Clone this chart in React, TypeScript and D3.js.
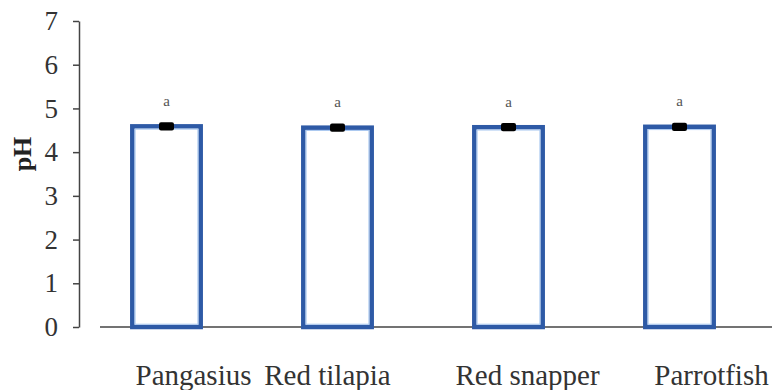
import React, { useEffect, useRef } from "react";
import * as d3 from "d3";

// data
const species = ["Pangasius", "Red tilapia", "Red snapper", "Parrotfish"];
const phValues = [4.59, 4.56, 4.57, 4.58];
const phErrors = [0.06, 0.06, 0.06, 0.06];
const letters = ["a", "a", "a", "a"];
const yTicks = [0, 1, 2, 3, 4, 5, 6, 7];

// labels in the original are not centred under their bars
const labelShift = [27, -10, 19, 32];

const width = 776;
const height = 390;

export default function App() {
  const ref = useRef<SVGSVGElement>(null);

  useEffect(() => {
    const svg = d3.select(ref.current);
    svg.selectAll("*").remove();

    const x = d3.scaleBand<string>()
      .domain(species)
      .range([81, 765])
      .paddingInner(0.6)
      .paddingOuter(0.3);

    const y = d3.scaleLinear()
      .domain([0, 7])
      .range([327, 21]);

    const serif = "'Liberation Serif', 'Times New Roman', serif";

    // y axis
    const yAxis = svg.append("g")
      .attr("transform", "translate(79,0)")
      .call(d3.axisLeft(y).tickValues(yTicks).tickSize(6).tickPadding(15).tickSizeOuter(0).tickFormat(d3.format("d")));
    yAxis.select(".domain").attr("stroke", "#444").attr("stroke-width", 1.5);
    yAxis.selectAll(".tick line").attr("stroke", "#444").attr("stroke-width", 1.5);
    yAxis.selectAll(".tick text")
      .attr("fill", "#333")
      .style("font-family", serif)
      .style("font-size", "27px");

    // x axis line (does not touch the y axis)
    svg.append("line")
      .attr("x1", 100)
      .attr("x2", 772)
      .attr("y1", y(0))
      .attr("y2", y(0))
      .attr("stroke", "#444")
      .attr("stroke-width", 1.5);

    // bars
    const bars = svg.append("g");
    bars.selectAll("rect.bar")
      .data(species)
      .join("rect")
      .attr("class", "bar")
      .attr("x", d => x(d)!)
      .attr("y", (d, i) => y(phValues[i]))
      .attr("width", x.bandwidth())
      .attr("height", (d, i) => y(0) - y(phValues[i]))
      .attr("fill", "#fff")
      .attr("stroke", "#2e5aa6")
      .attr("stroke-width", 4.5);

    // inner highlight
    bars.selectAll("rect.hl")
      .data(species)
      .join("rect")
      .attr("class", "hl")
      .attr("x", d => x(d)! + 2.8)
      .attr("y", (d, i) => y(phValues[i]) + 2.8)
      .attr("width", x.bandwidth() - 5.6)
      .attr("height", (d, i) => y(0) - y(phValues[i]) - 5.6)
      .attr("fill", "none")
      .attr("stroke", "#a9c8f0")
      .attr("stroke-width", 1);

    // error bars
    const err = svg.append("g");
    species.forEach((s, i) => {
      const cx = x(s)! + x.bandwidth() / 2;
      const lo = y(phValues[i] - phErrors[i]);
      const hi = y(phValues[i] + phErrors[i]);
      err.append("line")
        .attr("x1", cx).attr("x2", cx).attr("y1", lo).attr("y2", hi)
        .attr("stroke", "#000").attr("stroke-width", 2);
      err.append("rect")
        .attr("x", cx - 7.5)
        .attr("y", hi - 1.5)
        .attr("width", 15)
        .attr("height", lo - hi + 3)
        .attr("rx", 2)
        .attr("fill", "#000");
    });

    // significance letters
    svg.append("g")
      .selectAll("text")
      .data(letters)
      .join("text")
      .attr("x", (d, i) => x(species[i])! + x.bandwidth() / 2)
      .attr("y", (d, i) => y(phValues[i] + phErrors[i]) - 18)
      .attr("text-anchor", "middle")
      .attr("fill", "#555")
      .style("font-family", serif)
      .style("font-size", "15px")
      .text(d => d);

    // category labels
    svg.append("g")
      .selectAll("text")
      .data(species)
      .join("text")
      .attr("x", (d, i) => x(d)! + x.bandwidth() / 2 + labelShift[i])
      .attr("y", 385)
      .attr("text-anchor", "middle")
      .attr("fill", "#333")
      .style("font-family", serif)
      .style("font-size", "29px")
      .text(d => d);

    // y title
    svg.append("text")
      .attr("transform", "translate(31,154) rotate(-90)")
      .attr("text-anchor", "middle")
      .attr("fill", "#222")
      .style("font-family", serif)
      .style("font-weight", "bold")
      .style("font-size", "26px")
      .text("pH");
  }, []);

  return (
    <svg
      ref={ref}
      width={width}
      height={height}
      style={{ position: "absolute", left: 0, top: 0, background: "#fff" }}
    />
  );
}
